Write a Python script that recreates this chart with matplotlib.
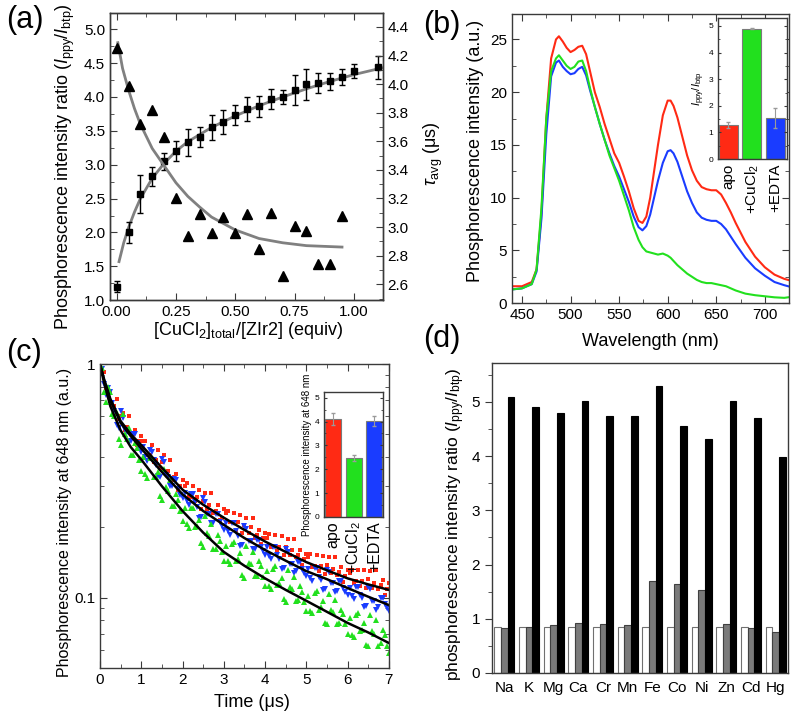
import numpy as np
import matplotlib
matplotlib.use("Agg")
import matplotlib.pyplot as plt
from matplotlib.ticker import MultipleLocator, LogLocator, NullFormatter, FixedLocator

plt.rcParams["font.family"] = ["Liberation Sans", "DejaVu Sans"]
plt.rcParams["mathtext.fontset"] = "custom"
plt.rcParams["mathtext.rm"] = "Liberation Sans"
plt.rcParams["mathtext.it"] = "Liberation Sans:italic"
plt.rcParams["mathtext.bf"] = "Liberation Sans:bold"

# ---------------- (a) titration ----------------
equiv = [0.00, 0.05, 0.10, 0.15, 0.20, 0.25, 0.30, 0.35, 0.40, 0.45, 0.50,
         0.55, 0.60, 0.65, 0.70, 0.75, 0.80, 0.85, 0.90, 0.95, 1.00, 1.10]
ratio = [1.20, 2.00, 2.57, 2.83, 3.05, 3.20, 3.33, 3.41, 3.55, 3.63, 3.73,
         3.82, 3.86, 3.97, 4.00, 4.10, 4.19, 4.21, 4.23, 4.29, 4.38, 4.44]
ratio_err = [0.08, 0.16, 0.28, 0.14, 0.13, 0.15, 0.20, 0.15, 0.18, 0.18, 0.15,
             0.18, 0.16, 0.15, 0.10, 0.22, 0.23, 0.15, 0.13, 0.12, 0.10, 0.17]
ratio_fit_x = [0.01, 0.03, 0.05, 0.075, 0.10, 0.15, 0.20, 0.25, 0.30, 0.40,
               0.50, 0.60, 0.70, 0.80, 0.90, 1.00, 1.12]
ratio_fit_y = [1.57, 1.85, 2.07, 2.30, 2.50, 2.80, 3.02, 3.20, 3.34, 3.55,
               3.72, 3.87, 4.00, 4.12, 4.23, 4.33, 4.43]

tau_x = [0.00, 0.05, 0.10, 0.15, 0.20, 0.25, 0.30, 0.35, 0.40, 0.45,
         0.50, 0.55, 0.60, 0.65, 0.70, 0.75, 0.80, 0.85, 0.90, 0.95]
tau_avg = [4.25, 3.99, 3.72, 3.82, 3.63, 3.20, 2.94, 3.09, 2.96, 3.07,
           2.96, 3.09, 2.85, 3.10, 2.66, 3.01, 2.97, 2.74, 2.74, 3.08]
tau_fit_x = [0.005, 0.025, 0.05, 0.075, 0.10, 0.15, 0.20, 0.25, 0.30, 0.35,
             0.40, 0.50, 0.60, 0.70, 0.80, 0.95]
tau_fit_y = [4.29, 4.11, 3.96, 3.83, 3.72, 3.55, 3.43, 3.31, 3.215, 3.14,
             3.07, 2.98, 2.92, 2.89, 2.87, 2.86]

# ---------------- (b) spectra ----------------
wl = [440, 450, 460, 465, 470, 475, 480, 485, 488, 492, 496, 500, 504, 508, 512,
      516, 520, 525, 530, 535, 540, 545, 550, 555, 560, 565, 570, 574, 578, 582,
      586, 590, 595, 600, 603, 606, 610, 615, 620, 625, 630, 635, 640, 645, 650,
      655, 660, 665, 670, 680, 690, 700, 710, 720, 728]
spec_apo = [1.6, 1.6, 2.0, 3.2, 8.5, 17.5, 23.2, 25.0, 25.3, 24.8, 24.2, 23.8, 24.0, 24.3, 24.4,
            23.6, 22.0, 20.0, 18.6, 17.0, 15.6, 14.2, 13.3, 12.0, 10.6, 9.0, 7.8, 7.6, 8.2, 10.0,
            12.5, 15.0, 17.8, 19.2, 19.2, 18.7, 17.6, 15.8, 14.0, 12.6, 11.6, 11.0, 10.8, 10.7, 10.7,
            10.3, 9.5, 8.6, 7.6, 5.8, 4.4, 3.4, 2.7, 2.3, 2.1]
spec_edta = [1.3, 1.4, 1.8, 3.0, 8.0, 16.0, 21.5, 22.8, 23.0, 22.4, 22.0, 21.7, 21.8, 22.2, 22.4,
             21.6, 20.2, 18.6, 17.0, 15.5, 14.2, 13.0, 12.0, 10.8, 9.6, 8.2, 7.2, 6.9, 7.3, 8.4,
             10.0, 11.6, 13.3, 14.4, 14.5, 14.2, 13.4, 12.0, 10.6, 9.5, 8.6, 8.1, 7.9, 7.8, 7.8,
             7.5, 7.0, 6.3, 5.6, 4.3, 3.3, 2.6, 2.0, 1.7, 1.5]
spec_cu = [1.3, 1.4, 1.8, 3.2, 9.0, 17.5, 22.0, 23.2, 23.5, 23.0, 22.5, 22.2, 22.4, 22.9, 23.0,
           22.0, 20.4, 18.6, 17.0, 15.5, 14.0, 12.8, 11.6, 10.2, 8.8, 7.2, 6.0, 5.3, 4.9, 4.8,
           4.7, 4.6, 4.7, 4.5, 4.3, 4.0, 3.6, 3.2, 2.8, 2.5, 2.2, 2.0, 1.9, 1.9, 1.8,
           1.7, 1.6, 1.4, 1.2, 0.9, 0.75, 0.65, 0.55, 0.5, 0.6]

conds = ["apo", "+CuCl$_2$", "+EDTA"]
inset_b_vals = [1.27, 4.90, 1.55]
inset_b_err = [0.12, 0.03, 0.38]

# ---------------- (c) decays ----------------
t_a = np.round(0.05 + 0.1 * np.arange(70), 2)
t_b = np.round(0.10 + 0.1 * np.arange(70), 2)
red_a = [0.96, 0.79, 0.76, 0.66, 0.58, 0.62, 0.54, 0.50, 0.52, 0.47,
         0.47, 0.41, 0.45, 0.39, 0.36, 0.41, 0.35, 0.32, 0.34, 0.30,
         0.30, 0.27, 0.30, 0.27, 0.24, 0.28, 0.25, 0.23, 0.25, 0.22,
         0.23, 0.21, 0.23, 0.21, 0.19, 0.22, 0.20, 0.18, 0.195, 0.18,
         0.18, 0.165, 0.185, 0.165, 0.152, 0.178, 0.16, 0.149, 0.16, 0.146,
         0.15, 0.135, 0.152, 0.137, 0.126, 0.149, 0.133, 0.125, 0.135, 0.124,
         0.127, 0.116, 0.131, 0.118, 0.11, 0.13, 0.116, 0.109, 0.119, 0.109]
red_b = [0.92, 0.76, 0.66, 0.71, 0.60, 0.52, 0.60, 0.50, 0.45, 0.49,
         0.47, 0.41, 0.38, 0.43, 0.38, 0.34, 0.39, 0.33, 0.29, 0.32,
         0.31, 0.27, 0.26, 0.29, 0.26, 0.24, 0.28, 0.235, 0.215, 0.24,
         0.235, 0.21, 0.195, 0.225, 0.205, 0.19, 0.22, 0.185, 0.17, 0.19,
         0.187, 0.167, 0.158, 0.183, 0.165, 0.152, 0.178, 0.152, 0.138, 0.154,
         0.154, 0.137, 0.13, 0.151, 0.138, 0.127, 0.15, 0.129, 0.117, 0.131,
         0.131, 0.118, 0.112, 0.131, 0.12, 0.11, 0.131, 0.113, 0.103, 0.116]
blue_a = [0.95, 0.74, 0.76, 0.63, 0.53, 0.59, 0.51, 0.47, 0.50, 0.44,
          0.44, 0.385, 0.42, 0.37, 0.33, 0.38, 0.33, 0.30, 0.32, 0.275,
          0.28, 0.25, 0.277, 0.244, 0.222, 0.257, 0.227, 0.209, 0.227, 0.202,
          0.209, 0.186, 0.208, 0.184, 0.168, 0.197, 0.175, 0.162, 0.177, 0.158,
          0.164, 0.147, 0.164, 0.146, 0.134, 0.157, 0.14, 0.13, 0.142, 0.127,
          0.133, 0.118, 0.134, 0.119, 0.109, 0.129, 0.115, 0.107, 0.118, 0.106,
          0.11, 0.099, 0.111, 0.1, 0.092, 0.109, 0.097, 0.091, 0.1, 0.09]
blue_b = [0.82, 0.79, 0.68, 0.55, 0.63, 0.52, 0.465, 0.50, 0.46, 0.42,
          0.40, 0.43, 0.387, 0.331, 0.394, 0.335, 0.30, 0.323, 0.293, 0.266,
          0.259, 0.279, 0.256, 0.22, 0.267, 0.228, 0.208, 0.228, 0.211, 0.195,
          0.192, 0.209, 0.192, 0.167, 0.203, 0.175, 0.161, 0.177, 0.165, 0.153,
          0.151, 0.165, 0.153, 0.133, 0.161, 0.14, 0.128, 0.142, 0.133, 0.124,
          0.122, 0.134, 0.123, 0.108, 0.132, 0.115, 0.106, 0.118, 0.11, 0.103,
          0.102, 0.111, 0.103, 0.091, 0.111, 0.097, 0.089, 0.1, 0.094, 0.088]
green_a = [0.96, 0.69, 0.76, 0.60, 0.48, 0.61, 0.48, 0.41, 0.46, 0.39,
           0.40, 0.324, 0.397, 0.33, 0.273, 0.354, 0.286, 0.247, 0.278, 0.234,
           0.242, 0.198, 0.242, 0.202, 0.171, 0.224, 0.184, 0.162, 0.185, 0.157,
           0.166, 0.139, 0.173, 0.146, 0.125, 0.167, 0.139, 0.124, 0.143, 0.123,
           0.13, 0.109, 0.136, 0.115, 0.099, 0.131, 0.109, 0.097, 0.112, 0.096,
           0.102, 0.086, 0.107, 0.091, 0.078, 0.104, 0.087, 0.077, 0.089, 0.077,
           0.082, 0.068, 0.086, 0.073, 0.063, 0.084, 0.07, 0.062, 0.073, 0.062]
green_b = [0.76, 0.80, 0.61, 0.62, 0.45, 0.50, 0.53, 0.41, 0.435, 0.35,
           0.34, 0.395, 0.327, 0.346, 0.261, 0.297, 0.319, 0.247, 0.262, 0.212,
           0.207, 0.241, 0.2, 0.214, 0.165, 0.19, 0.207, 0.162, 0.175, 0.144,
           0.143, 0.17, 0.144, 0.156, 0.122, 0.141, 0.157, 0.124, 0.136, 0.112,
           0.112, 0.133, 0.113, 0.122, 0.096, 0.111, 0.123, 0.098, 0.106, 0.088,
           0.088, 0.105, 0.089, 0.097, 0.077, 0.089, 0.098, 0.078, 0.085, 0.07,
           0.069, 0.084, 0.072, 0.078, 0.062, 0.072, 0.08, 0.064, 0.069, 0.058]
fit_t = [0.0, 0.1, 0.25, 0.5, 0.75, 1.0, 1.5, 2.0, 2.5, 3.0, 3.5, 4.0, 4.5, 5.0, 5.5, 6.0, 6.5, 7.0]
fit_apo = [1.0, 0.86, 0.71, 0.57, 0.50, 0.45, 0.36, 0.29, 0.25, 0.22, 0.195, 0.174,
           0.157, 0.142, 0.131, 0.121, 0.114, 0.108]
fit_edta = [1.0, 0.85, 0.70, 0.56, 0.49, 0.435, 0.345, 0.277, 0.235, 0.205, 0.18, 0.16,
            0.144, 0.13, 0.12, 0.11, 0.101, 0.093]
fit_cu = [1.0, 0.83, 0.66, 0.52, 0.44, 0.39, 0.30, 0.235, 0.19, 0.157, 0.137, 0.121,
          0.108, 0.097, 0.087, 0.078, 0.071, 0.064]
inset_c_vals = [4.10, 2.47, 4.02]
inset_c_err = [0.25, 0.12, 0.20]

# ---------------- (d) metal selectivity ----------------
metals = ["Na", "K", "Mg", "Ca", "Cr", "Mn", "Fe", "Co", "Ni", "Zn", "Cd", "Hg"]
free_probe = [0.85] * 12
with_metal = [0.83, 0.85, 0.88, 0.92, 0.91, 0.89, 1.70, 1.65, 1.54, 0.91, 0.83, 0.76]
with_metal_cu = [5.09, 4.91, 4.80, 5.02, 4.75, 4.74, 5.30, 4.55, 4.31, 5.01, 4.70, 3.99]

RED, GREEN, BLUE = "#ff2a14", "#22e01e", "#1a3cff"
FRAME = "#3a3a3a"


def style(ax, top=True, right=True, direction="in", size=11):
    for s in ax.spines.values():
        s.set_color(FRAME)
        s.set_linewidth(1.0)
    ax.tick_params(which="both", direction=direction, top=top, right=right,
                   color=FRAME, labelsize=size)
    ax.tick_params(which="major", length=5)
    ax.tick_params(which="minor", length=3)


fig = plt.figure(figsize=(8, 7.2), dpi=100)

# (a)
ax = fig.add_axes([0.1375, 0.583, 0.341, 0.399])
ax.plot(ratio_fit_x, ratio_fit_y, color="#808080", lw=2, zorder=1)
ax.errorbar(equiv, ratio, yerr=ratio_err, fmt="s", color="k", ms=5,
            capsize=2.5, elinewidth=1, capthick=1, zorder=3)
ax.set_xlim(-0.028, 1.122)
ax.set_ylim(1.0, 5.24)
ax.xaxis.set_major_locator(MultipleLocator(0.25))
ax.xaxis.set_minor_locator(MultipleLocator(0.125))
ax.yaxis.set_major_locator(MultipleLocator(0.5))
ax.yaxis.set_minor_locator(MultipleLocator(0.25))
ax.xaxis.set_major_formatter(matplotlib.ticker.FormatStrFormatter("%.2f"))
ax.yaxis.set_major_formatter(matplotlib.ticker.FormatStrFormatter("%.1f"))
style(ax, right=False)
ax.set_xlabel("[CuCl$_2$]$_{\\mathrm{total}}$/[ZIr2] (equiv)", fontsize=13)
ax.set_ylabel("Phosphorescence intensity ratio ($I_{\\mathrm{ppy}}/I_{\\mathrm{btp}}$)", fontsize=13)
ax.xaxis.set_label_coords(0.506, -0.07)
ax.yaxis.set_label_coords(-0.121, 0.467)

ax2 = ax.twinx()
ax2.plot(tau_fit_x, tau_fit_y, color="#808080", lw=2, zorder=1)
ax2.plot(tau_x, tau_avg, "^", color="k", ms=7, zorder=3)
ax2.set_ylim(2.488, 4.498)
ax2.yaxis.set_major_locator(MultipleLocator(0.2))
ax2.yaxis.set_minor_locator(MultipleLocator(0.1))
ax2.yaxis.set_major_formatter(matplotlib.ticker.FormatStrFormatter("%.1f"))
style(ax2, top=False, right=True)
ax2.tick_params(left=False, which="both")
ax2.set_ylabel("$\\tau_{\\mathrm{avg}}$ (\u03bcs)", fontsize=13)
ax2.yaxis.set_label_coords(1.143, 0.512)

# (b)
axb = fig.add_axes([0.64, 0.579, 0.346, 0.4014])
axb.plot(wl, spec_apo, color=RED, lw=1.5)
axb.plot(wl, spec_edta, color=BLUE, lw=1.5)
axb.plot(wl, spec_cu, color=GREEN, lw=1.5)
axb.set_xlim(439.7, 724.7)
axb.set_ylim(0, 27.4)
axb.xaxis.set_major_locator(MultipleLocator(50))
axb.xaxis.set_minor_locator(MultipleLocator(25))
axb.yaxis.set_major_locator(MultipleLocator(5))
axb.yaxis.set_minor_locator(MultipleLocator(2.5))
style(axb)
axb.set_xlabel("Wavelength (nm)", fontsize=13)
axb.set_ylabel("Phosphorescence intensity (a.u.)", fontsize=13)
axb.xaxis.set_label_coords(0.5, -0.105)
axb.yaxis.set_label_coords(-0.1, 0.528)

axbi = fig.add_axes([0.8975, 0.779, 0.086, 0.196])
axbi.bar(range(3), inset_b_vals, width=0.82, color=[RED, GREEN, BLUE],
         edgecolor="#7a7a7a", linewidth=0.8, yerr=inset_b_err, ecolor="#9a9a9a",
         error_kw=dict(elinewidth=0.8, capsize=1.5))
axbi.set_xlim(-0.45, 2.5)
axbi.set_ylim(0, 5.3)
axbi.yaxis.set_major_locator(MultipleLocator(1))
axbi.yaxis.set_minor_locator(MultipleLocator(0.5))
style(axbi, top=False, size=6)
axbi.tick_params(which="major", length=2.5)
axbi.tick_params(which="minor", length=1.5)
axbi.set_xticks(range(3))
axbi.set_xticklabels(conds, rotation=90, fontsize=11)
axbi.tick_params(axis="x", length=0, pad=3)
axbi.set_ylabel("$I_{\\mathrm{ppy}}/I_{\\mathrm{btp}}$", fontsize=8, labelpad=1)

# (c)
axc = fig.add_axes([0.125, 0.0722, 0.361, 0.4222])
axc.plot(t_a, red_a, "s", color=RED, ms=3.3, mew=0)
axc.plot(t_b, red_b, "s", color=RED, ms=3.3, mew=0)
axc.plot(t_a, blue_a, "v", color=BLUE, ms=4, mew=0)
axc.plot(t_b, blue_b, "v", color=BLUE, ms=4, mew=0)
axc.plot(t_a, green_a, "^", color=GREEN, ms=4, mew=0)
axc.plot(t_b, green_b, "^", color=GREEN, ms=4, mew=0)
axc.plot(fit_t, fit_apo, color="k", lw=1.8)
axc.plot(fit_t, fit_edta, color="k", lw=1.8)
axc.plot(fit_t, fit_cu, color="k", lw=1.8)
axc.set_yscale("log")
axc.set_xlim(0, 7)
axc.set_ylim(0.05, 1.0)
axc.xaxis.set_major_locator(MultipleLocator(1))
axc.xaxis.set_minor_locator(MultipleLocator(0.5))
axc.yaxis.set_major_locator(FixedLocator([0.1, 1.0]))
axc.yaxis.set_major_formatter(matplotlib.ticker.FixedFormatter(["0.1", "1"]))
axc.yaxis.set_minor_locator(LogLocator(base=10, subs=np.arange(2, 10)))
axc.yaxis.set_minor_formatter(NullFormatter())
style(axc)
axc.set_xlabel("Time (\u03bcs)", fontsize=13)
axc.set_ylabel("Phosphorescence intensity at 648 nm (a.u.)", fontsize=11.5)
axc.xaxis.set_label_coords(0.525, -0.085)
axc.yaxis.set_label_coords(-0.097, 0.479)

axci = fig.add_axes([0.405, 0.282, 0.074, 0.174])
axci.bar(range(3), inset_c_vals, width=0.77, color=[RED, GREEN, BLUE],
         edgecolor="#7a7a7a", linewidth=0.8, yerr=inset_c_err, ecolor="#9a9a9a",
         error_kw=dict(elinewidth=0.8, capsize=1.5))
axci.set_xlim(-0.42, 2.42)
axci.set_ylim(0, 5.25)
axci.yaxis.set_major_locator(MultipleLocator(1))
axci.yaxis.set_minor_locator(MultipleLocator(0.5))
style(axci, top=False, size=6)
axci.tick_params(which="major", length=2.5)
axci.tick_params(which="minor", length=1.5)
axci.set_xticks(range(3))
axci.set_xticklabels(conds, rotation=90, fontsize=11.5)
axci.tick_params(axis="x", length=0, pad=3)
axci.set_ylabel("Phosphorescence intensity at 648 nm", fontsize=7, labelpad=2)

# (d)
axd = fig.add_axes([0.615, 0.0653, 0.37, 0.4306])
x = np.arange(len(metals))
w = 0.27
axd.bar(x - w, free_probe, width=w, color="white", edgecolor="#707070", linewidth=0.8)
axd.bar(x, with_metal, width=w, color="#7a7a7a", edgecolor="#404040", linewidth=0.8)
axd.bar(x + w, with_metal_cu, width=w, color="black", edgecolor="black", linewidth=0.8)
axd.set_xlim(-0.5, 11.5)
axd.set_ylim(0, 5.72)
axd.set_xticks(x)
axd.set_xticklabels(metals)
axd.yaxis.set_major_locator(MultipleLocator(1))
axd.yaxis.set_minor_locator(MultipleLocator(0.5))
style(axd, top=False, right=False, direction="out")
axd.tick_params(axis="x", length=0, pad=6)
axd.set_ylabel("phosphorescence intensity ratio ($I_{\\mathrm{ppy}}/I_{\\mathrm{btp}}$)", fontsize=12.5)
axd.yaxis.set_label_coords(-0.084, 0.48)

# panel letters
fig.text(0.008, 0.972, "(a)", fontsize=22, va="center")
fig.text(0.529, 0.965, "(b)", fontsize=22, va="center")
fig.text(0.008, 0.51, "(c)", fontsize=22, va="center")
fig.text(0.529, 0.529, "(d)", fontsize=22, va="center")

fig.savefig("out.png", dpi=100)
